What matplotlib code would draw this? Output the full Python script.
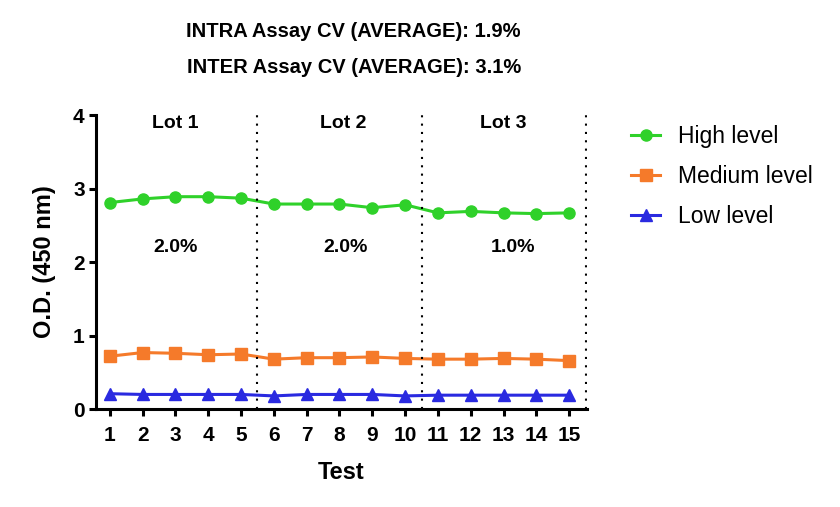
import matplotlib
matplotlib.use('Agg')
import matplotlib.pyplot as plt

plt.rcParams['font.family'] = ['Liberation Sans', 'DejaVu Sans']

tests = list(range(1, 16))
high = [2.81, 2.86, 2.89, 2.89, 2.87, 2.79, 2.79, 2.79, 2.74, 2.78,
        2.67, 2.69, 2.67, 2.66, 2.67]
medium = [0.72, 0.77, 0.76, 0.74, 0.75, 0.68, 0.70, 0.70, 0.71, 0.69,
          0.68, 0.68, 0.69, 0.68, 0.66]
low = [0.21, 0.20, 0.20, 0.20, 0.20, 0.18, 0.20, 0.20, 0.20, 0.18,
       0.19, 0.19, 0.19, 0.19, 0.19]

lot_names = ['Lot 1', 'Lot 2', 'Lot 3']
lot_centers = [3, 8.1, 13]
lot_cv = ['2.0%', '2.0%', '1.0%']
cv_x = [3, 8.2, 13.3]
lot_bounds = [5.5, 10.5, 15.5]

green = '#2fd12a'
orange = '#f57a2a'
blue = '#2a2ae0'

fig = plt.figure(figsize=(8.4, 5.07), dpi=100)
ax = fig.add_axes([0.114, 0.193, 0.585, 0.580])

ax.plot(tests, high, color=green, marker='o', ms=8, lw=2.2, label='High level')
ax.plot(tests, medium, color=orange, marker='s', ms=8, lw=2.2, label='Medium level')
ax.plot(tests, low, color=blue, marker='^', ms=8.5, lw=2.2, label='Low level')

for b in lot_bounds:
    ax.axvline(b, color='black', lw=1.5, ls=(0, (1, 3)))

for name, x in zip(lot_names, lot_centers):
    ax.text(x, 3.89, name, ha='center', va='center', fontsize=14, fontweight='bold')
for cv, x in zip(lot_cv, cv_x):
    ax.text(x, 2.2, cv, ha='center', va='center', fontsize=14, fontweight='bold')

ax.set_xlim(0.57, 15.55)
ax.set_ylim(0, 4)
ax.set_xticks(tests)
ax.set_yticks([0, 1, 2, 3, 4])
for s in ['top', 'right']:
    ax.spines[s].set_visible(False)
for s in ['left', 'bottom']:
    ax.spines[s].set_linewidth(2.2)
ax.tick_params(width=2.2, length=5, labelsize=15)
ax.tick_params(axis='x', pad=7)
ax.tick_params(axis='y', pad=3)
for lab in ax.get_xticklabels() + ax.get_yticklabels():
    lab.set_fontweight('bold')

ax.set_xlabel('Test', fontsize=17, fontweight='bold', labelpad=12)
ax.set_ylabel('O.D. (450 nm)', fontsize=17, fontweight='bold', labelpad=12)

fig.text(0.421, 0.938, 'INTRA Assay CV (AVERAGE): 1.9%', ha='center', va='center',
         fontsize=14.5, fontweight='bold')
fig.text(0.421, 0.867, 'INTER Assay CV (AVERAGE): 3.1%', ha='center', va='center',
         fontsize=14.5, fontweight='bold')

ax.legend(loc='upper left', bbox_to_anchor=(0.727, 0.794), bbox_transform=fig.transFigure,
          frameon=False, fontsize=16.5, handlelength=1.25, handletextpad=0.8,
          labelspacing=0.75)

fig.savefig('out.png', dpi=100)
